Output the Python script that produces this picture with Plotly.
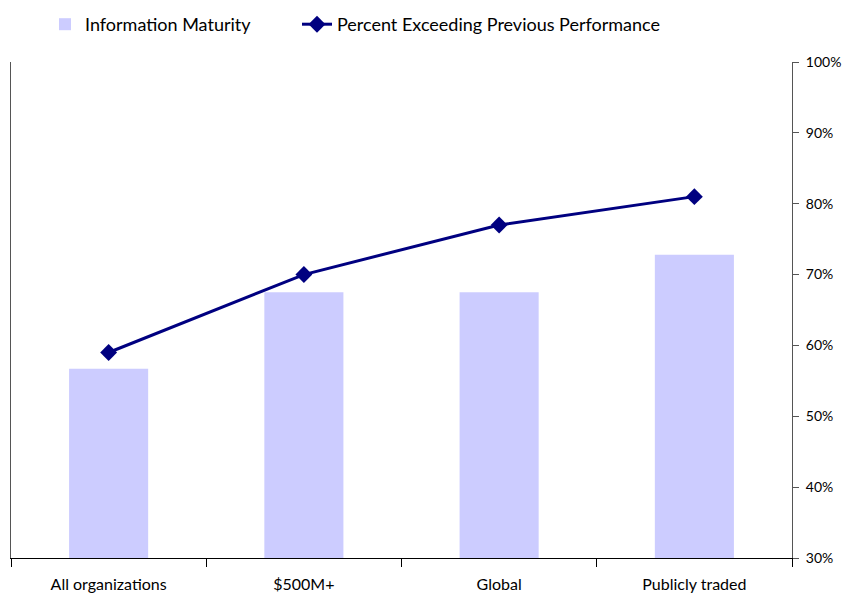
import plotly.graph_objects as go

categories = ["All organizations", "$500M+", "Global", "Publicly traded"]
info_maturity = [56.7, 67.5, 67.5, 72.8]
pct_exceeding = [59, 70, 77, 81]
pct_ticks = [30, 40, 50, 60, 70, 80, 90, 100]
pct_tick_labels = [f"{v}%" for v in pct_ticks]

FONT = "Lato"
NAVY = "#000080"
LAVENDER = "#CCCCFF"

fig = go.Figure()
fig.add_trace(go.Bar(
    x=categories, y=info_maturity, name="Information Maturity",
    marker=dict(color=LAVENDER, line=dict(width=0)), width=0.405,
    yaxis="y", legend="legend",
))
fig.add_trace(go.Scatter(
    x=categories, y=pct_exceeding, name="Percent Exceeding Previous Performance",
    mode="lines+markers",
    line=dict(color=NAVY, width=3),
    marker=dict(symbol="diamond", size=13, color=NAVY),
    yaxis="y2", legend="legend2",
))

legend_common = dict(orientation="h", yanchor="top", xanchor="left",
                     xref="container", yref="container", y=1 - 6 / 596,
                     font=dict(size=18, family=FONT), itemwidth=30,
                     bgcolor="rgba(0,0,0,0)")

fig.update_layout(
    width=843, height=596,
    margin=dict(l=11, r=51, t=62, b=38, autoexpand=False),
    paper_bgcolor="white", plot_bgcolor="white",
    font=dict(family=FONT, size=14, color="black"),
    showlegend=True,
    legend=dict(x=45 / 843, **legend_common),
    legend2=dict(x=297 / 843, **legend_common),
    xaxis=dict(
        showline=True, linecolor="black", linewidth=1,
        ticks="outside", ticklen=8, tickcolor="black", tickson="boundaries",
        ticklabelstandoff=12,
        showgrid=False, tickfont=dict(size=16, family=FONT),
    ),
    yaxis=dict(
        range=[30, 100], showline=True, linecolor="#555555", linewidth=1,
        showticklabels=False, ticks="", showgrid=False, zeroline=False,
    ),
    yaxis2=dict(
        range=[30, 100], overlaying="y", side="right",
        tickvals=pct_ticks, ticktext=pct_tick_labels,
        showline=True, linecolor="#555555", linewidth=1,
        ticks="outside", ticklen=6, tickcolor="#555555", ticklabelstandoff=4,
        showgrid=False, zeroline=False, tickfont=dict(size=14, family=FONT),
    ),
)

fig.write_html("out.html")
